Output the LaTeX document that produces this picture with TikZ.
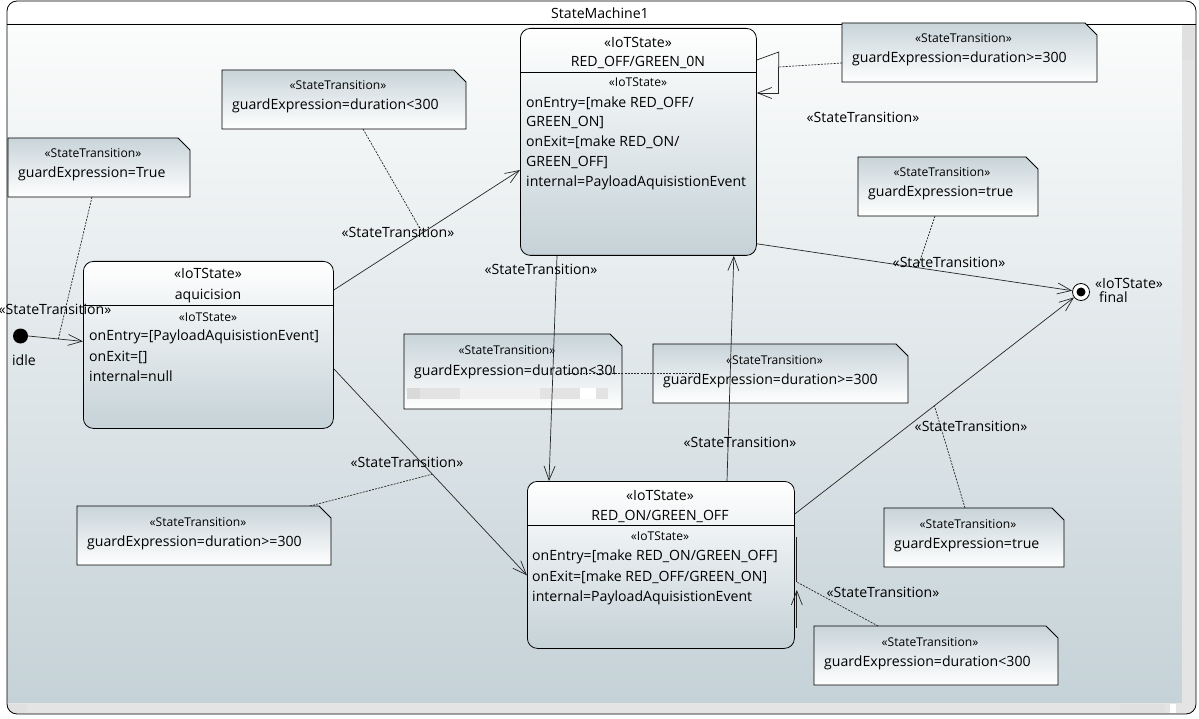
\documentclass[tikz,border=0pt]{standalone}
\usepackage{fontspec}
\setmainfont{Open Sans}
\usetikzlibrary{arrows.meta,fit}
\definecolor{bgbot}{HTML}{C5D2D7}
\definecolor{bgtop}{HTML}{FBFCFC}
\definecolor{notetop}{HTML}{C8D4D9}
\definecolor{scrollc}{HTML}{E4E4E4}
\tikzset{
  txt/.style={inner sep=0pt, font=\fontsize{14.1}{16}\selectfont, text height=14pt, text depth=2pt},
  stxt/.style={inner sep=0pt, font=\fontsize{12.1}{14}\selectfont, text height=12pt, text depth=2pt},
  statebox/.style={draw=black, line width=0.8pt, rounded corners=10pt, top color=white, bottom color=bgbot, anchor=north west, inner sep=0pt},
  tr/.style={draw=black!85, line width=0.7pt, -{Straight Barb[length=14pt,width=11pt]}},
  plain/.style={draw=black!85, line width=0.7pt},
  anch/.style={draw=black!85, line width=0.7pt, dash pattern=on 2pt off 1.2pt},
  notebase/.style={inner sep=0pt, outer sep=0pt},
}
\newcommand\stnote[6]{%
  \node[notebase, fit={(#2,#3) (#4,#5)}] (#1) {};
  \shade[top color=notetop, bottom color=white, draw=black, line width=0.8pt]
    (#1.north west) -- ([xshift=-12pt]#1.north east) -- ([yshift=-12pt]#1.north east)
    -- (#1.south east) -- (#1.south west) -- cycle;
  \node[stxt] (#1-st) at ([xshift=-6pt,yshift=-15pt]#1.north) {«StateTransition»};
  \node[txt, anchor=west] (#1-g) at ([xshift=10pt,yshift=-34pt]#1.north west) {#6};
}
\begin{document}
\begin{tikzpicture}[x=1pt,y=-1pt]
\useasboundingbox (0,0) rectangle (1199,719);
% frame
\begin{scope}
\clip[rounded corners=10pt] (7,1) rectangle (1196,714);
\fill[white] (7,1) rectangle (1196,24);
\shade[top color=bgtop, bottom color=bgbot] (7,24) rectangle (1182,703);
\fill[scrollc] (1182,24) rectangle (1196,714);
\fill[scrollc] (7,703) rectangle (1196,714);
\fill[black!12] (1182,26) rectangle (1194,60);
\fill[black!12] (9,704) rectangle (27,713);
\fill[black!12] (1120,704) rectangle (1165,713);
\fill[white] (1170,704) rectangle (1176,713);
\end{scope}
\draw[line width=0.8pt, rounded corners=10pt] (7,1) rectangle (1196,714);
\draw[line width=0.8pt] (7,24) -- (1196,24);
\node[txt] (title) at (600,13) {StateMachine1};

% states
\node[statebox, minimum width=250pt, minimum height=167pt] (aq) at (83,261) {};
\draw[line width=0.8pt] (83,305) -- (333,305);
\node[txt] at (208,273) {«IoTState»};
\node[txt] at (208,294) {aquicision};
\node[stxt] at (208,316) {«IoTState»};
\node[txt, anchor=west] at (89,334) {onEntry=[PayloadAquisistionEvent]};
\node[txt, anchor=west] at (89,355) {onExit=[]};
\node[txt, anchor=west] at (89,375) {internal=null};

\node[statebox, minimum width=236pt, minimum height=227pt] (off) at (520,28) {};
\draw[line width=0.8pt] (520,72) -- (756,72);
\node[txt] at (638,42) {«IoTState»};
\node[txt] at (638,61) {RED\_OFF/GREEN\_0N};
\node[stxt] at (638,82) {«IoTState»};
\node[txt, anchor=west] at (526,102) {onEntry=[make RED\_OFF/};
\node[txt, anchor=west] at (526,121) {GREEN\_ON]};
\node[txt, anchor=west] at (526,141) {onExit=[make RED\_ON/};
\node[txt, anchor=west] at (526,161) {GREEN\_OFF]};
\node[txt, anchor=west] at (526,181) {internal=PayloadAquisistionEvent};

\node[statebox, minimum width=267pt, minimum height=167pt] (on) at (527,481) {};
\draw[line width=0.8pt] (527,525) -- (794,525);
\node[txt] at (660,494) {«IoTState»};
\node[txt] at (660,514) {RED\_ON/GREEN\_OFF};
\node[stxt] at (660,535) {«IoTState»};
\node[txt, anchor=west] at (532,554) {onEntry=[make RED\_ON/GREEN\_OFF]};
\node[txt, anchor=west] at (532,575) {onExit=[make RED\_OFF/GREEN\_ON]};
\node[txt, anchor=west] at (532,595) {internal=PayloadAquisistionEvent};

% initial and final
\node[circle, fill=black, inner sep=0pt, minimum size=15pt] (init) at (20.5,336) {};
\node[txt] (idlelbl) at (24,359) {idle};
\node[circle, draw=black, line width=0.8pt, fill=white, inner sep=0pt, minimum size=17pt] (fin) at (1081,292) {};
\fill[black] (fin) circle (4.5pt);
\node[txt, anchor=west] (finst) at (1095,283) {«IoTState»};
\node[txt, anchor=west] (finlbl) at (1099,296) {final};

% notes
\stnote{n1}{8}{138}{190}{197}{guardExpression=True}
\stnote{n2}{222}{70}{466}{129}{guardExpression=duration<300}
\stnote{n3}{842}{23}{1097}{82}{guardExpression=duration>=300}
\stnote{n4}{858}{157}{1038}{216}{guardExpression=true}
% note with clipped text
\node[notebase, fit={(404,334) (622,409)}] (n5) {};
\shade[top color=notetop, bottom color=white, draw=black, line width=0.8pt]
  (n5.north west) -- ([xshift=-12pt]n5.north east) -- ([yshift=-12pt]n5.north east)
  -- (n5.south east) -- (n5.south west) -- cycle;
\node[stxt] (n5-st) at ([xshift=-6pt,yshift=-15pt]n5.north) {«StateTransition»};
\begin{scope}
\clip (404,350) rectangle (614,385);
\node[txt, anchor=west] (n5-g) at ([xshift=10pt,yshift=-35pt]n5.north west) {guardExpression=duration<300};
\end{scope}
\fill[black!11] (407,388) rectangle (608,399);
\fill[black!15] (407,388) rectangle (420,399);
\fill[black!6] (460,388) rectangle (540,399);
\fill[white] (580,388) rectangle (596,399);
\stnote{n6}{653}{344}{908}{403}{guardExpression=duration>=300}
\stnote{n7}{77}{506}{331}{565}{guardExpression=duration>=300}
\stnote{n8}{884}{508}{1064}{567}{guardExpression=true}
\stnote{n9}{814}{626}{1058}{685}{guardExpression=duration<300}

% transitions
\draw[tr] (init.east) -- coordinate[pos=0.55] (t1m) ([yshift=3.5pt]aq.west);
\draw[tr] ([yshift=-29pt]aq.north east) -- coordinate[pos=0.476] (t2m) ([yshift=-142pt]off.north west);
\draw[plain] ([yshift=-32pt]off.north east) -- ++(22,-8) coordinate (lp1) -- ++(0,15) coordinate (lp2);
\draw[tr] (lp2) |- ([yshift=-65pt]off.north east);
\draw[tr] ([yshift=12pt]off.south east) -- coordinate[pos=0.51] (t4m) (fin);
\draw[tr] ([xshift=37pt]off.south west) -- ([xshift=22pt]on.north west);
\draw[tr] ([xshift=200pt]on.north west) -- ([xshift=-23pt]off.south east);
\draw[tr] ([yshift=60pt]aq.south east) -- coordinate[pos=0.51] (t7m) ([yshift=-10.5pt]on.west);
\draw[tr] ([yshift=-33pt]on.north east) -- coordinate[pos=0.5] (t8m) (fin);
\draw[plain] ([xshift=2pt,yshift=-56pt]on.north east) -- ([xshift=2pt,yshift=-101pt]on.north east) coordinate (lq1);
\draw[tr] ([xshift=2pt,yshift=21pt]on.south east) -- ([xshift=2pt,yshift=-109pt]on.north east);

% anchors (dashed)
\draw[anch] ([xshift=84pt]n1.south west) -- (t1m);
\draw[anch] ([xshift=141pt]n2.south west) -- (t2m);
\draw[anch] ([yshift=-10.5pt]n3.west) -- (lp2);
\draw[anch] ([xshift=77pt]n4.south west) -- (t4m);
\draw[anch] ([xshift=163pt,yshift=-39pt]n5.north west) -- ([xshift=47pt,yshift=-29pt]n6.north west);
\draw[anch] ([xshift=233pt]n7.north west) -- (t7m);
\draw[anch] ([xshift=81pt]n8.north west) -- (t8m);
\draw[anch] ([xshift=64pt]n9.north west) -- (lq1);

% transition labels
\node[txt] (l1) at (55,309) {«StateTransition»};
\node[txt] (l2) at (398,232) {«StateTransition»};
\node[txt] (l3) at (863,117) {«StateTransition»};
\node[txt] (l4) at (949,262) {«StateTransition»};
\node[txt] (l5) at (541,269) {«StateTransition»};
\node[txt] (l6) at (740,441) {«StateTransition»};
\node[txt] (l7) at (407,461) {«StateTransition»};
\node[txt] (l8) at (971,425) {«StateTransition»};
\node[txt] (l9) at (883,591) {«StateTransition»};
\end{tikzpicture}
\end{document}
